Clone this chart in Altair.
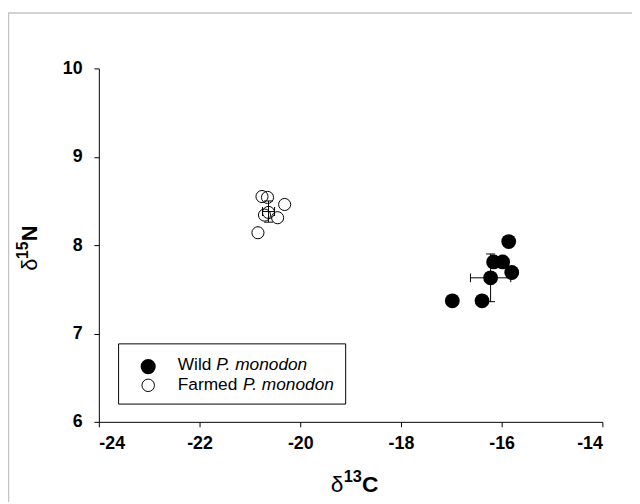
import altair as alt
import pandas as pd

# ---- data ----
wild_x = [-15.86, -16.16, -15.98, -15.80, -16.22, -16.98, -16.39]
wild_y = [8.04, 7.81, 7.81, 7.69, 7.63, 7.37, 7.37]
farmed_x = [-20.76, -20.65, -20.31, -20.63, -20.45, -20.71, -20.84]
farmed_y = [8.55, 8.54, 8.46, 8.37, 8.31, 8.34, 8.14]

groups = ["Wild", "Farmed"]
mean_x = [-16.22, -20.63]
mean_y = [7.63, 8.38]
sd_x = [0.40, 0.12]
sd_y = [0.27, 0.12]

x_ticks = [-24, -22, -20, -18, -16, -14]
y_ticks = [6, 7, 8, 9, 10]

W, H = 510, 358
FONT = "Liberation Sans"

wild = pd.DataFrame({"x": wild_x, "y": wild_y})
farmed = pd.DataFrame({"x": farmed_x, "y": farmed_y})
err = pd.DataFrame({
    "g": groups, "mx": mean_x, "my": mean_y,
    "xlo": [m - s for m, s in zip(mean_x, sd_x)],
    "xhi": [m + s for m, s in zip(mean_x, sd_x)],
    "ylo": [m - s for m, s in zip(mean_y, sd_y)],
    "yhi": [m + s for m, s in zip(mean_y, sd_y)],
})
one = pd.DataFrame({"k": [0]})

xs = alt.Scale(domain=[-24, -14], nice=False, zero=False)
ys = alt.Scale(domain=[6, 10], nice=False, zero=False)

xax = alt.Axis(values=x_ticks, labelExpr="'' + datum.value", title=None,
               grid=False, labelPadding=8)
yax = alt.Axis(values=y_ticks, labelExpr="'' + datum.value", title=None,
               grid=False, labelPadding=12)

X = lambda f: alt.X(f, type="quantitative", scale=xs, axis=xax)
Y = lambda f: alt.Y(f, type="quantitative", scale=ys, axis=yax)

# frame (figure border)
frame_left = alt.Chart(one).mark_rule(color="#c4c4c4", strokeWidth=1.5).encode(
    x=alt.value(-91.5), y=alt.value(-56), y2=alt.value(440))
frame_top = alt.Chart(one).mark_rule(color="#c4c4c4", strokeWidth=1.5).encode(
    x=alt.value(-92), x2=alt.value(545), y=alt.value(-56))

# error bars
vbar = alt.Chart(err).mark_rule(color="black", strokeWidth=1).encode(
    x=X("mx"), y=Y("ylo"), y2="yhi")
hbar = alt.Chart(err).mark_rule(color="black", strokeWidth=1).encode(
    y=Y("my"), x=X("xlo"), x2="xhi")
cap_lo = alt.Chart(err).mark_tick(orient="horizontal", size=9, thickness=1,
                                  color="black", opacity=1).encode(x=X("mx"), y=Y("ylo"))
cap_hi = alt.Chart(err).mark_tick(orient="horizontal", size=9, thickness=1,
                                  color="black", opacity=1).encode(x=X("mx"), y=Y("yhi"))
cap_l = alt.Chart(err).mark_tick(orient="vertical", size=9, thickness=1,
                                 color="black", opacity=1).encode(x=X("xlo"), y=Y("my"))
cap_r = alt.Chart(err).mark_tick(orient="vertical", size=9, thickness=1,
                                 color="black", opacity=1).encode(x=X("xhi"), y=Y("my"))

# points
farmed_pts = alt.Chart(farmed).mark_point(shape="circle", filled=False, stroke="black",
                                          strokeWidth=1, size=150, opacity=1).encode(
    x=X("x"), y=Y("y"))
wild_pts = alt.Chart(wild).mark_point(shape="circle", filled=True, color="black",
                                      size=225, opacity=1).encode(
    x=X("x"), y=Y("y"))

# legend
leg_box = alt.Chart(one).mark_rect(fill="white", stroke="black", strokeWidth=1).encode(
    x=alt.value(20), x2=alt.value(250), y=alt.value(279), y2=alt.value(340))
leg_wild = alt.Chart(one).mark_point(shape="circle", filled=True, color="black",
                                     size=235, opacity=1).encode(
    x=alt.value(50), y=alt.value(302))
leg_farm = alt.Chart(one).mark_point(shape="circle", filled=False, stroke="black",
                                     strokeWidth=1, size=160, opacity=1).encode(
    x=alt.value(50), y=alt.value(321))


def txt(s, x, y, size, weight="normal", style="normal", angle=0, dx=0, dy=0):
    return alt.Chart(one).mark_text(text=s, align="left", baseline="alphabetic",
                                    font=FONT, fontSize=size, fontWeight=weight,
                                    fontStyle=style, color="black", angle=angle,
                                    dx=dx, dy=dy).encode(x=alt.value(x), y=alt.value(y))


leg_t1 = txt("Wild", 80, 305, 17.5)
leg_t1i = txt("P. monodon", 80 + 39, 305, 17.5, style="italic")
leg_t2 = txt("Farmed", 80, 326, 17.5)
leg_t2i = txt("P. monodon", 80 + 66, 326, 17.5, style="italic")

# axis titles
XB = 429
xt1 = txt("δ", 235, XB, 23)
xt2 = txt("13", 235 + 13, XB - 10, 16.5, weight="bold")
xt3 = txt("C", 235 + 13 + 18.5, XB, 23, weight="bold")

yt1 = txt("δ", -63, 205, 22, angle=270)
yt2 = txt("15", -63, 205, 16, weight="bold", angle=270, dx=12, dy=-9)
yt3 = txt("N", -63, 205, 22, weight="bold", angle=270, dx=12 + 18)

chart = alt.layer(
    frame_left, frame_top,
    vbar, hbar, cap_lo, cap_hi, cap_l, cap_r,
    farmed_pts, wild_pts,
    leg_box, leg_wild, leg_farm, leg_t1, leg_t1i, leg_t2, leg_t2i,
    xt1, xt2, xt3, yt1, yt2, yt3,
).properties(
    width=W, height=H,
    autosize=alt.AutoSizeParams(type="none"),
    padding={"left": 92, "top": 58, "right": 30, "bottom": 78},
).configure_view(stroke=None).configure_axis(
    domainColor="black", domainWidth=1, tickColor="black", tickWidth=1, tickSize=5,
    labelFont=FONT, labelFontWeight="bold", labelFontSize=18, labelColor="black",
)

chart.save("out.html", embed_options={"renderer": "svg", "actions": False})
